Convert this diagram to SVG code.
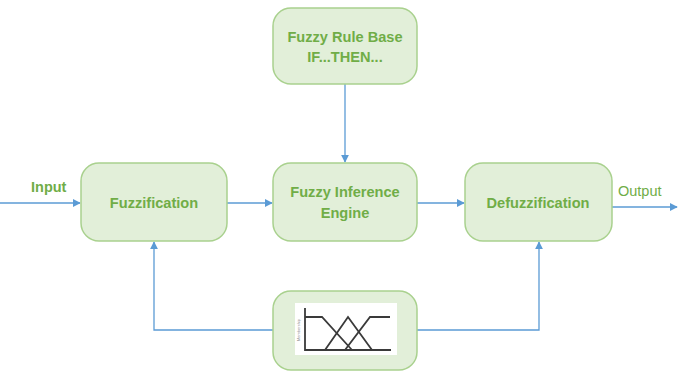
<svg xmlns="http://www.w3.org/2000/svg" width="678" height="376" viewBox="0 0 678 376">
  <style>
    .box { fill: #e2efd9; stroke: #a9d18e; stroke-width: 1.5; }
    .lbl { font-family: "Liberation Sans", Arial, sans-serif; font-size: 14.6px; font-weight: bold; fill: #70ad47; text-anchor: middle; }
    .io { font-family: "Liberation Sans", Arial, sans-serif; font-size: 14.5px; fill: #70ad47; }
    .wire { fill: none; stroke: #5b9bd5; stroke-width: 1.3; }
    .curve { fill: none; stroke: #3a3a3a; stroke-width: 1.8; }
  </style>
  <defs>
    <marker id="arrow" viewBox="0 0 10 10" refX="9" refY="5" markerWidth="8" markerHeight="8" markerUnits="userSpaceOnUse" orient="auto">
      <path d="M0,0 L10,5 L0,10 z" fill="#5b9bd5"/>
    </marker>
  </defs>
  <rect width="678" height="376" fill="#ffffff"/>

  <g id="connectors">
    <path class="wire" d="M0,203 H80" marker-end="url(#arrow)"/>
    <path class="wire" d="M227,203 H272" marker-end="url(#arrow)"/>
    <path class="wire" d="M417,203 H464" marker-end="url(#arrow)"/>
    <path class="wire" d="M612,207 H677" marker-end="url(#arrow)"/>
    <path class="wire" d="M345,84 V162" marker-end="url(#arrow)"/>
    <path class="wire" d="M273,330 H154 V242" marker-end="url(#arrow)"/>
    <path class="wire" d="M417,330 H539 V242" marker-end="url(#arrow)"/>
  </g>

  <g id="rule-base">
    <rect class="box" x="273" y="8" width="144" height="76" rx="18"/>
    <text class="lbl" x="345" y="42">Fuzzy Rule Base</text>
    <text class="lbl" x="345" y="62">IF...THEN...</text>
  </g>

  <g id="fuzzification">
    <rect class="box" x="81" y="163" width="146" height="78" rx="18"/>
    <text class="lbl" x="154" y="208">Fuzzification</text>
  </g>

  <g id="inference-engine">
    <rect class="box" x="273" y="163" width="144" height="78" rx="18"/>
    <text class="lbl" x="345" y="197">Fuzzy Inference</text>
    <text class="lbl" x="345" y="218">Engine</text>
  </g>

  <g id="defuzzification">
    <rect class="box" x="465" y="163" width="147" height="78" rx="18"/>
    <text class="lbl" x="538" y="208">Defuzzification</text>
  </g>

  <g id="membership">
    <rect class="box" x="273" y="291" width="144" height="79" rx="18"/>
    <rect x="295" y="303" width="102" height="52" fill="#ffffff"/>
    <text x="300" y="330" font-family="Liberation Sans, Arial, sans-serif" font-size="4" fill="#888" text-anchor="middle" transform="rotate(-90 300 330)">Membership</text>
    <path class="curve" d="M305,308 V350 H391"/>
    <path class="curve" d="M305,317 H322 L352,350"/>
    <path class="curve" d="M325,350 L348,317 L372,350"/>
    <path class="curve" d="M345,350 L370,317 H390"/>
  </g>

  <g id="labels">
    <text class="io" x="31" y="192" font-weight="bold">Input</text>
    <text class="io" x="618" y="196">Output</text>
  </g>
</svg>
